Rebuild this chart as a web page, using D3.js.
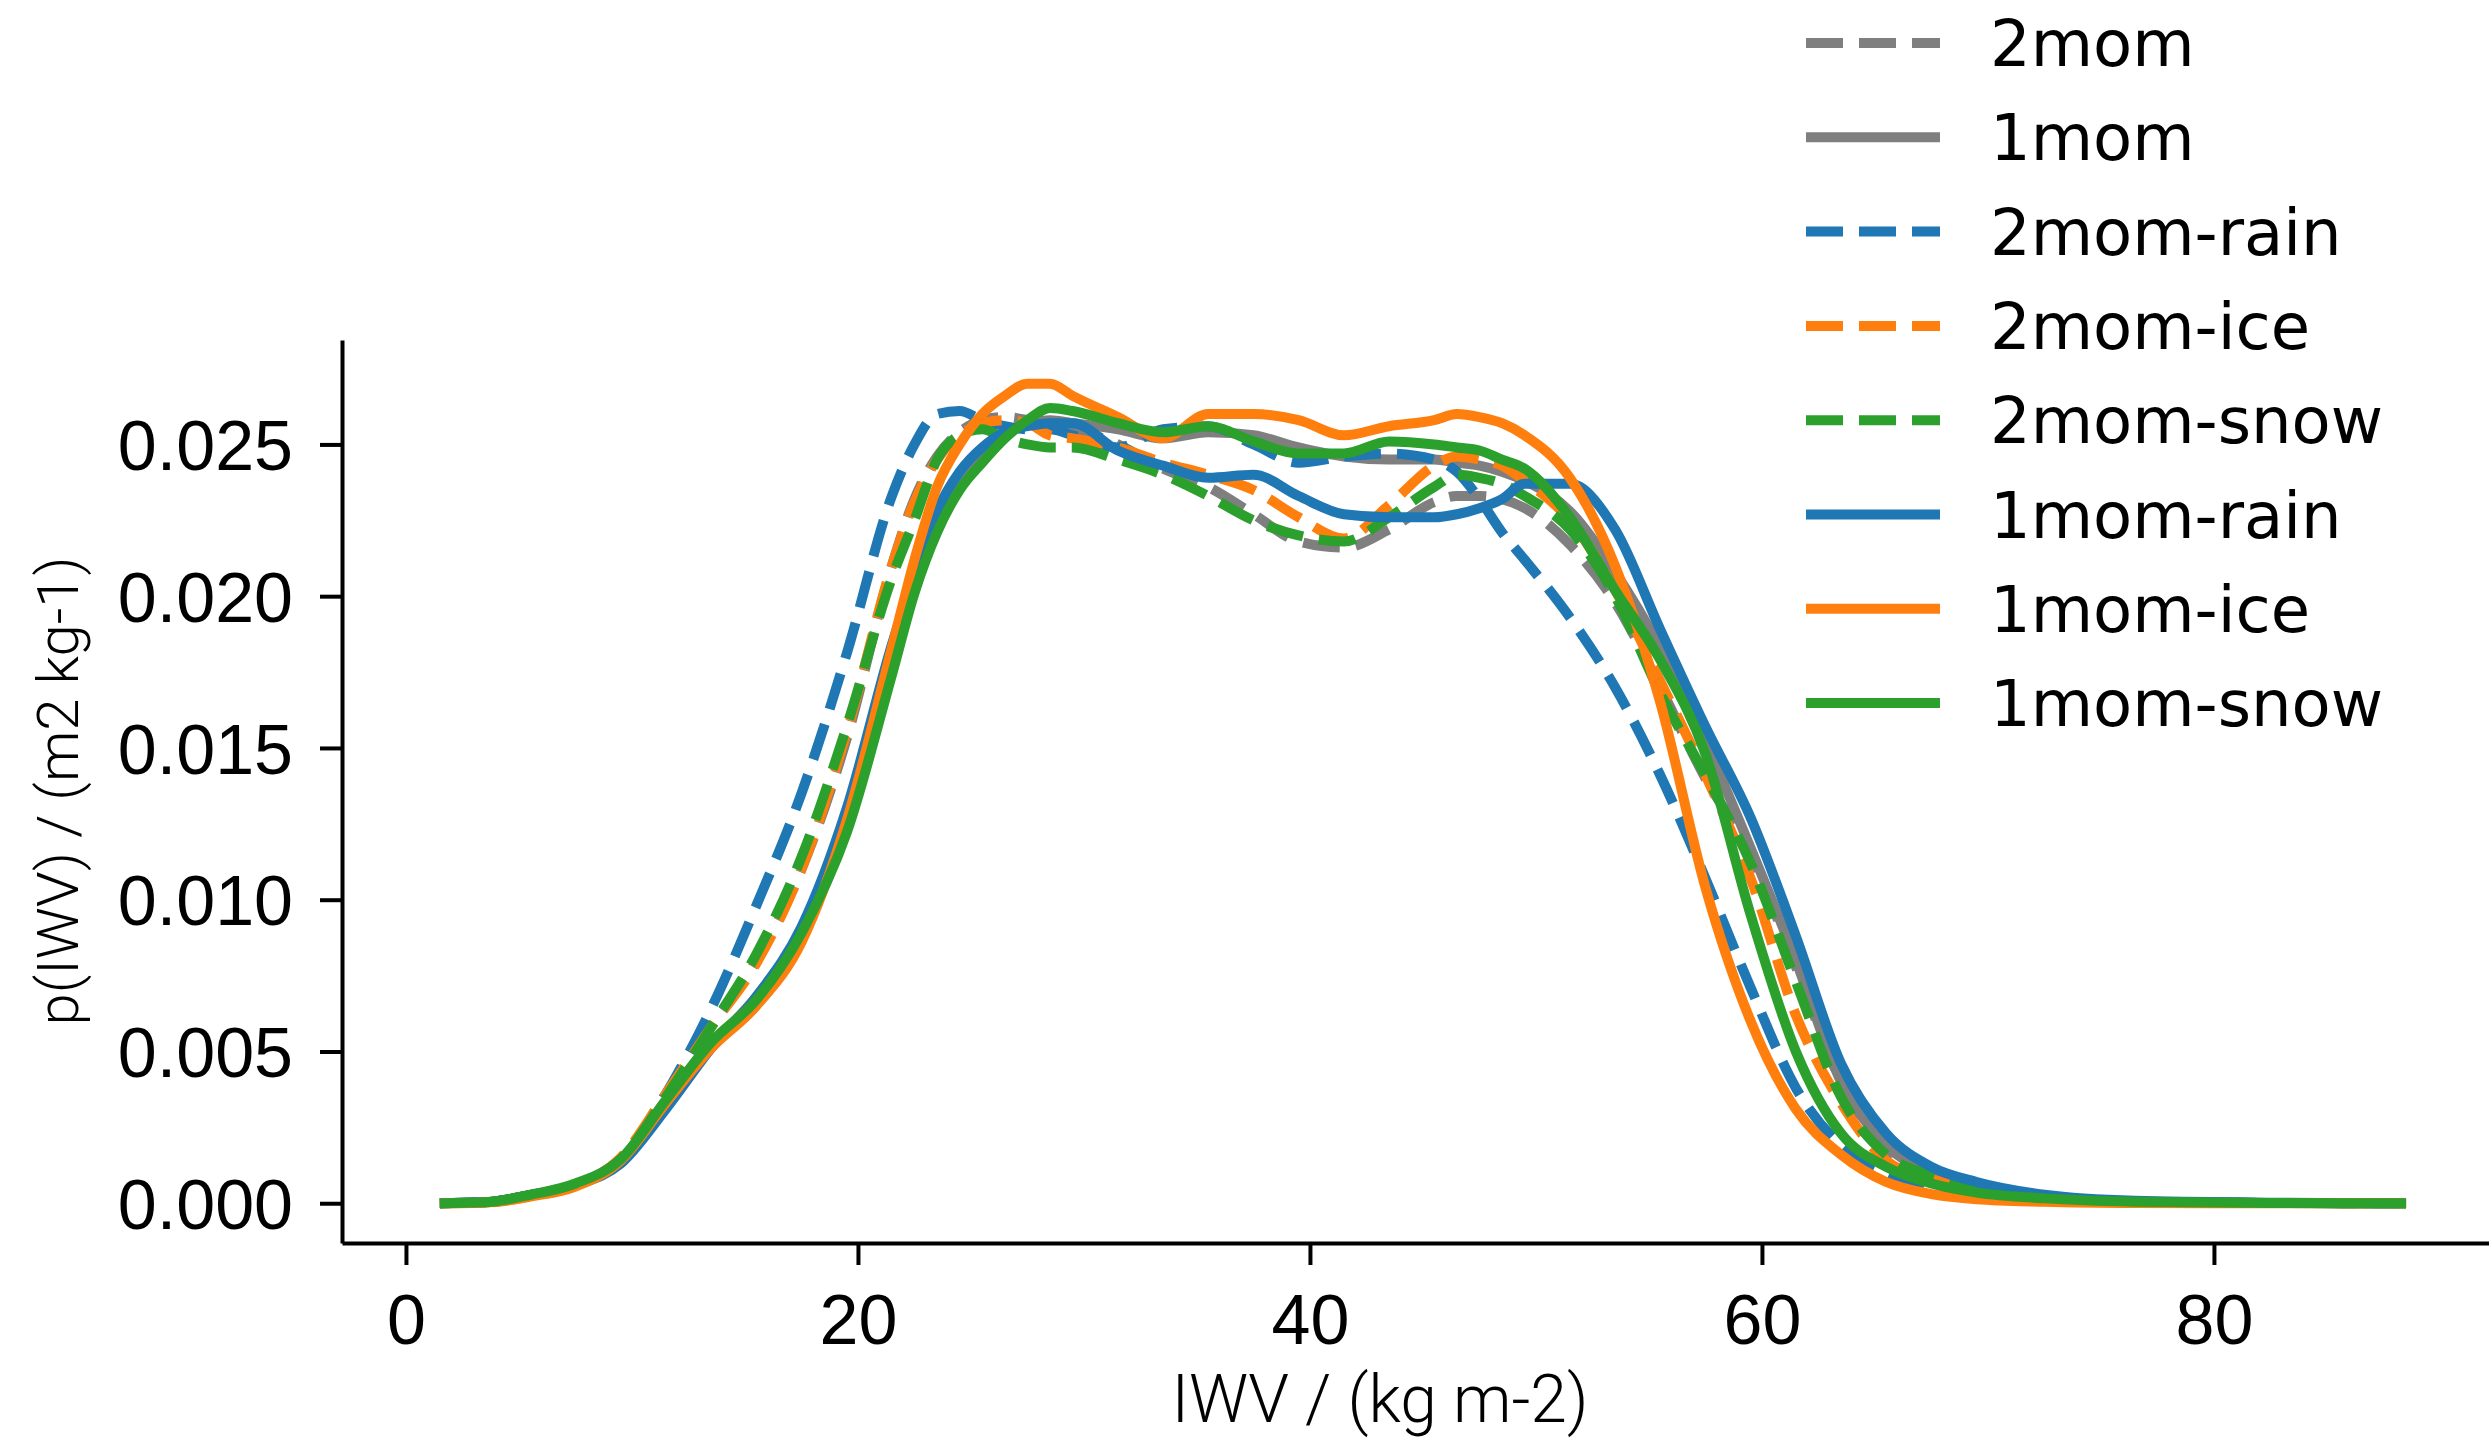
<!doctype html>
<html>
<head>
<meta charset="utf-8">
<style>
  body { margin: 0; background: #fff; }
  svg { display: block; }
</style>
</head>
<body>
<svg width="2489" height="1450"></svg>
<script src="https://d3js.org/d3.v7.min.js"></script>
<script>

// IWV bin centres (kg m-2)
var iwv = [1.5, 3.5, 5.5, 7.5, 9.5, 11.5, 13.5, 15.5, 17.5, 19.5,
  21.5, 22.5, 23.5, 24.5, 25.5, 26.5, 27.5, 28.5, 29.5,
  31.5, 33.5, 35.5, 37.5, 39.5, 41.5, 43.5, 45.5, 46.5, 47.5, 48.5, 49.5,
  51.5, 53.5, 55.5, 57.5, 59.5, 61.5, 63.5, 65.5, 67.5, 69.5, 72.5, 76.5, 82.5, 88.5];

// p(IWV) for every run
var p2mom = [0, .00003, .00027, .00062, .0014, .0036, .0058, .0080, .0110, .0153,
  .0210, .0232, .0246, .0254, .0258, .0259, .0258, .0256, .0255,
  .0250, .0242, .0236, .0227, .0218, .0216, .0222, .0231, .0233, .0233, .0232, .0229,
  .0217, .0198, .0170, .0140, .0115, .0078, .0040, .0017, .0009, .0004, .00015, .00004, .00001, 0];
var p1mom = [0, .00003, .00027, .0006, .0014, .0033, .0052, .0068, .0090, .0128,
  .0180, .0205, .0225, .0238, .0247, .0253, .0257, .0258, .0257,
  .0255, .0252, .0254, .0253, .0249, .0246, .0245, .0245, .0244, .0243, .0241, .0238,
  .0228, .0208, .0183, .0152, .0117, .0080, .0040, .0019, .0010, .0005, .0002, .00006, .00001, 0];
var p2momRain = [0, .00003, .00027, .00062, .0014, .0036, .0064, .0098, .0135, .0181,
  .0233, .0250, .0260, .0261, .0258, .0256, .0255, .0255, .0253,
  .0249, .0255, .0256, .0250, .0244, .0246, .0247, .0245, .0241, .0232, .0221, .0212,
  .0193, .0170, .0141, .0107, .0071, .0038, .0019, .0010, .0005, .00025, .0001, .00003, .00001, 0];
var p2momIce = [0, .00002, .00022, .00058, .0015, .0036, .0058, .0079, .0110, .0155,
  .0210, .0231, .0245, .0253, .0257, .0258, .0257, .0253, .0252,
  .0249, .0244, .0240, .0235, .0226, .0219, .0230, .0243, .0246, .0245, .0243, .0238,
  .0225, .0202, .0172, .0141, .0107, .0062, .0033, .0014, .0008, .0004, .00015, .00004, .00001, 0];
var p2momSnow = [0, .00003, .00027, .00062, .00145, .0035, .0058, .0082, .0114, .0157,
  .0206, .0225, .0245, .0253, .0255, .0252, .0250, .0249, .0249,
  .0245, .0240, .0233, .0225, .0220, .0218, .0226, .0236, .0240, .0239, .0237, .0233,
  .0222, .0200, .0168, .0141, .0112, .0073, .0035, .0016, .0009, .0004, .00015, .00004, .00001, 0];
var p1momRain = [0, .00003, .00027, .0006, .0013, .0031, .0051, .0068, .0091, .0130,
  .0184, .0207, .0228, .0241, .0249, .0254, .0256, .0257, .0257,
  .0248, .0243, .0239, .0240, .0233, .0227, .0226, .0226, .0227, .0229, .0232, .0237,
  .0237, .0222, .0189, .0157, .0127, .0088, .0046, .0023, .0012, .0007, .00028, .00008, .00002, 0];
var p1momIce = [0, .00002, .00022, .00055, .0014, .0033, .0051, .0065, .0086, .0126,
  .0183, .0212, .0236, .0250, .0260, .0266, .0270, .0270, .0266,
  .0259, .0252, .0260, .0260, .0258, .0253, .0256, .0258, .0260, .0259, .0257, .0253,
  .0239, .0210, .0165, .0104, .0060, .0031, .0016, .0007, .0003, .00013, .00005, .00001, 0, 0];
var p1momSnow = [0, .00003, .00028, .00065, .00145, .0034, .0053, .0067, .0089, .0122,
  .0174, .0201, .0221, .0235, .0244, .0252, .0258, .0262, .0261,
  .0257, .0254, .0256, .0251, .0247, .0247, .0251, .0250, .0249, .0248, .0245, .0242,
  .0226, .0202, .0179, .0148, .0095, .0050, .0023, .0012, .00065, .00035, .00016, .00005, .00001, 0];

var xTicks = [0, 20, 40, 60, 80];
var yTicks = [0, 0.005, 0.010, 0.015, 0.020, 0.025];

var series = [
  {name: "2mom", values: p2mom, color: "#7f7f7f", dashed: true},
  {name: "1mom", values: p1mom, color: "#7f7f7f", dashed: false},
  {name: "2mom-rain", values: p2momRain, color: "#1f77b4", dashed: true},
  {name: "2mom-ice", values: p2momIce, color: "#ff7f0e", dashed: true},
  {name: "2mom-snow", values: p2momSnow, color: "#2ca02c", dashed: true},
  {name: "1mom-rain", values: p1momRain, color: "#1f77b4", dashed: false},
  {name: "1mom-ice", values: p1momIce, color: "#ff7f0e", dashed: false},
  {name: "1mom-snow", values: p1momSnow, color: "#2ca02c", dashed: false}
];

var svg = d3.select("svg");

var x = d3.scaleLinear().domain([-2.83, 93.1]).range([342, 2510]);
var y = d3.scaleLinear().domain([-0.00131, 0.02844]).range([1243, 340]);

var line = d3.line()
    .x(function(d) { return x(d[0]); })
    .y(function(d) { return y(d[1]); })
    .curve(d3.curveMonotoneX);

// curves
series.forEach(function(s) {
  svg.append("path")
      .datum(d3.zip(iwv, s.values))
      .attr("fill", "none")
      .attr("stroke", s.color)
      .attr("stroke-width", 10)
      .attr("stroke-linejoin", "round")
      .attr("stroke-dasharray", s.dashed ? "37,16" : null)
      .attr("d", line);
});

// axes
var gx = svg.append("g")
    .attr("transform", "translate(0,1243)")
    .call(d3.axisBottom(x).tickValues(xTicks).tickSize(22).tickSizeOuter(0).tickPadding(29));
var gy = svg.append("g")
    .attr("transform", "translate(342,0)")
    .call(d3.axisLeft(y).tickValues(yTicks).tickFormat(d3.format(".3f"))
      .tickSize(22).tickSizeOuter(0).tickPadding(27));

[gx, gy].forEach(function(g) {
  g.select(".domain").attr("stroke", "#000").attr("stroke-width", 4);
  g.selectAll(".tick line").attr("stroke", "#000").attr("stroke-width", 4);
  g.selectAll(".tick text")
      .attr("fill", "#000")
      .style("font-family", "'Liberation Sans', Arial, sans-serif")
      .style("font-size", "70px");
});
gy.selectAll(".tick text").attr("dy", "0.36em");

// axis labels
svg.append("text")
    .attr("x", 1380)
    .attr("y", 1422)
    .attr("text-anchor", "middle")
    .style("font-family", "Roboto, 'Liberation Sans', sans-serif")
    .style("font-weight", 300)
    .style("font-size", "66px")
    .text("IWV / (kg m-2)");

svg.append("text")
    .attr("transform", "translate(78,791) rotate(-90)")
    .attr("text-anchor", "middle")
    .style("font-family", "Roboto, 'Liberation Sans', sans-serif")
    .style("font-weight", 300)
    .style("font-size", "58px")
    .text("p(IWV) / (m2 kg-1)");

// legend
var legend = svg.append("g");
series.forEach(function(s, i) {
  var ly = 43 + i * 94.3;
  legend.append("line")
      .attr("x1", 1806).attr("x2", 1940)
      .attr("y1", ly).attr("y2", ly)
      .attr("stroke", s.color)
      .attr("stroke-width", 10)
      .attr("stroke-dasharray", s.dashed ? "37,16" : null);
  legend.append("text")
      .attr("x", 1990)
      .attr("y", ly)
      .attr("dy", "0.36em")
      .style("font-family", "'DejaVu Sans', sans-serif")
      .style("font-size", "64px")
      .text(s.name);
});

</script>
</body>
</html>
